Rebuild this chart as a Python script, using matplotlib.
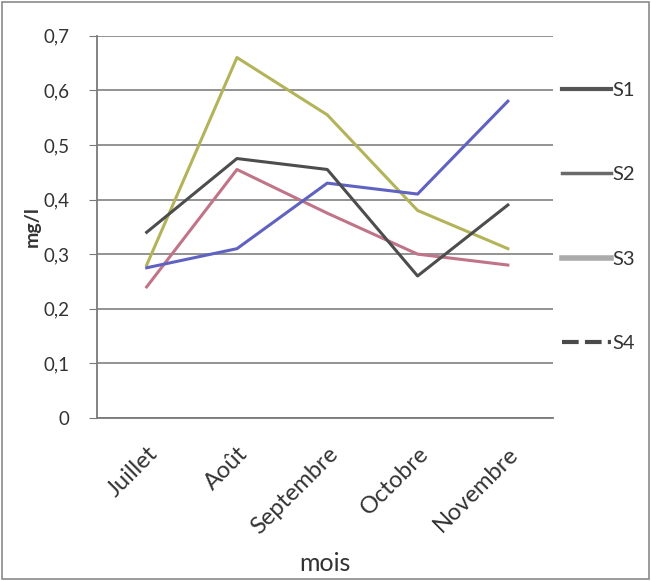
import matplotlib
matplotlib.use("Agg")
import matplotlib.pyplot as plt
from matplotlib.patches import Rectangle
from matplotlib.transforms import ScaledTranslation

plt.rcParams["font.family"] = ["Lato", "DejaVu Sans"]

# Données : concentration (mg/l) par mois et par station
mois = ["Juillet", "Août", "Septembre", "Octobre", "Novembre"]
s1 = [0.34, 0.475, 0.455, 0.26, 0.39]
s2 = [0.24, 0.455, 0.375, 0.30, 0.28]
s3 = [0.28, 0.66, 0.555, 0.38, 0.31]
s4 = [0.275, 0.31, 0.43, 0.41, 0.58]
graduations = [0, 0.1, 0.2, 0.3, 0.4, 0.5, 0.6, 0.7]

fig = plt.figure(figsize=(6.51, 5.81), dpi=100)
ax = fig.add_axes([0.149, 0.2806, 0.7005, 0.658])

x = range(len(mois))

# tracé des courbes dans la zone
ax.plot(x, s3, color="#b3b35a", linewidth=2.2, zorder=3)
ax.plot(x, s2, color="#c07488", linewidth=2.2, zorder=3)
ax.plot(x, s4, color="#5f62c0", linewidth=2.2, zorder=3)
ax.plot(x, s1, color="#4d4d4d", linewidth=2.2, zorder=4)

ax.set_xlim(-0.55, 4.5)
ax.set_ylim(0, 0.7)
ax.set_yticks(graduations)
ax.set_yticklabels([f"{v:.1f}".replace(".", ",") if v else "0" for v in graduations])
ax.set_xticks(list(x))
ax.set_xticklabels(mois, rotation=45, ha="right", rotation_mode="anchor")

# léger décalage des mois vers la gauche
decalage = ScaledTranslation(-6 / 100, 0, fig.dpi_scale_trans)
for lbl in ax.get_xticklabels():
    lbl.set_transform(lbl.get_transform() + decalage)

ax.yaxis.grid(True, color="#8a8a8a", linewidth=1.3)
ax.set_axisbelow(True)
for side in ["top", "right"]:
    ax.spines[side].set_visible(False)
ax.spines["left"].set_color("#7a7a7a")
ax.spines["bottom"].set_color("#7a7a7a")
ax.spines["left"].set_linewidth(1.3)
ax.spines["bottom"].set_linewidth(1.3)

ax.tick_params(axis="y", length=6, color="#7a7a7a", labelsize=13.5, pad=14, labelcolor="#333333")
ax.tick_params(axis="x", length=0, labelsize=17, pad=18, labelcolor="#333333")

ax.set_ylabel("mg/l", fontsize=14, fontweight="bold", labelpad=2, color="#333333")
ax.set_xlabel("mois", fontsize=18, labelpad=10, color="#333333")

# légende à droite, entrées très espacées
leg_lines = [
    plt.Line2D([], [], color="#555555", linewidth=3),
    plt.Line2D([], [], color="#6a6a6a", linewidth=2.5),
    plt.Line2D([], [], color="#ababab", linewidth=4),
    plt.Line2D([], [], color="#4a4a4a", linewidth=3, linestyle=(0, (4, 1.5))),
]
fig.legend(leg_lines, ["S1", "S2", "S3", "S4"], loc="upper left",
           bbox_to_anchor=(0.836, 0.891), frameon=False, fontsize=14.5,
           handlelength=2.4, handletextpad=0.1, labelspacing=3.35,
           labelcolor="#333333")

# cadre du graphique
fig.add_artist(Rectangle((0.003, 0.003), 0.994, 0.994, transform=fig.transFigure,
                         fill=False, edgecolor="#8a8a8a", linewidth=1.2))

fig.savefig("out.png", dpi=100)
